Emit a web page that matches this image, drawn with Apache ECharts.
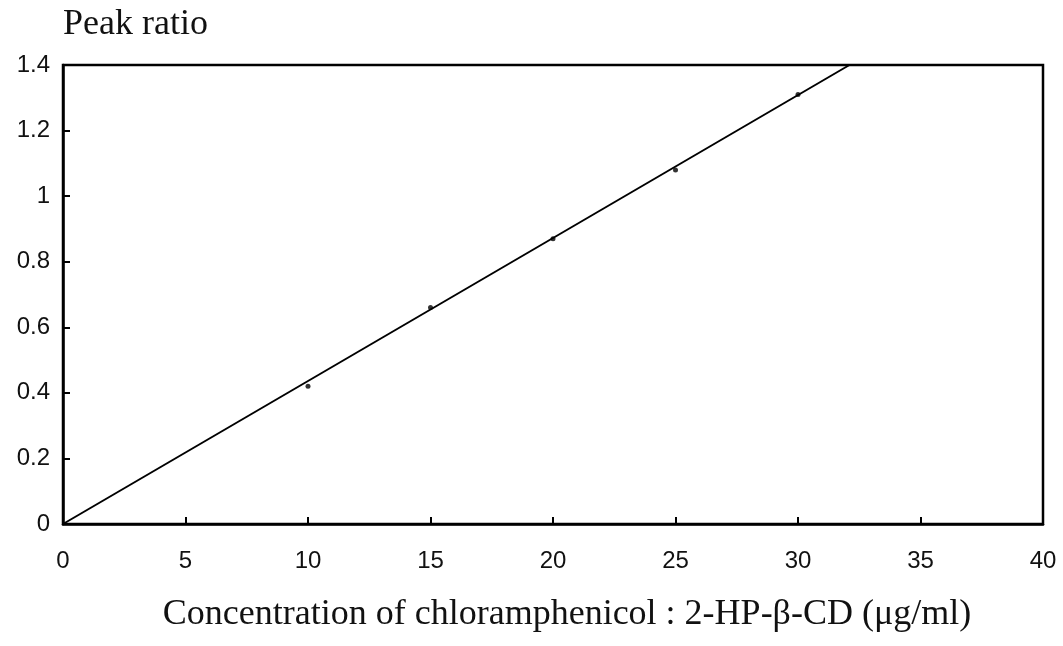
<!DOCTYPE html>
<html>
<head>
<meta charset="utf-8">
<script src="https://cdn.jsdelivr.net/npm/echarts@6/dist/echarts.min.js"></script>
<style>html,body{margin:0;padding:0;background:#fff}#c{width:1063px;height:646px}</style>
</head>
<body>
<div id="c"></div>
<script>
const concX = [10, 15, 20, 25, 30];
const peakY = [0.42, 0.66, 0.87, 1.08, 1.31];
const fitX = [0, 32.1];
const fitY = [0, 1.4];
const xTitle = 'Concentration of chloramphenicol : 2-HP-β-CD (μg/ml)';
const yTitle = 'Peak ratio';

const chart = echarts.init(document.getElementById('c'));
chart.setOption({
  backgroundColor: '#fff',
  animation: false,
  grid: {left: 63, right: 20, top: 65, bottom: 122, show: true, borderColor: '#000', borderWidth: 2.5},
  xAxis: {
    type: 'value', min: 0, max: 40, interval: 5,
    name: xTitle, nameLocation: 'middle', nameGap: 73,
    nameTextStyle: {fontFamily: 'Liberation Serif', fontSize: 36, color: '#111', padding: [0, 0, 0, 28]},
    axisLine: {lineStyle: {color: '#000', width: 2.5}},
    axisTick: {inside: true, length: 7, lineStyle: {color: '#000', width: 2}},
    axisLabel: {fontFamily: 'Liberation Sans', fontSize: 24, color: '#111', margin: 25},
    splitLine: {show: false}
  },
  yAxis: {
    type: 'value', min: 0, max: 1.4, interval: 0.2,
    name: yTitle, nameLocation: 'end', nameGap: 40,
    nameTextStyle: {fontFamily: 'Liberation Serif', fontSize: 36, color: '#111', align: 'left', verticalAlign: 'middle'},
    axisLine: {lineStyle: {color: '#000', width: 2.5}},
    axisTick: {inside: true, length: 7, lineStyle: {color: '#000', width: 2}},
    axisLabel: {fontFamily: 'Liberation Sans', fontSize: 24, color: '#111', margin: 13,
      formatter: v => String(Math.round(v * 10) / 10)},
    splitLine: {show: false}
  },
  series: [
    {type: 'line', data: fitX.map((x, i) => [x, fitY[i]]), showSymbol: false,
     lineStyle: {color: '#000', width: 2}},
    {type: 'scatter', data: concX.map((x, i) => [x, peakY[i]]), symbolSize: 5,
     itemStyle: {color: '#000'}}
  ]
});
</script>
</body>
</html>
